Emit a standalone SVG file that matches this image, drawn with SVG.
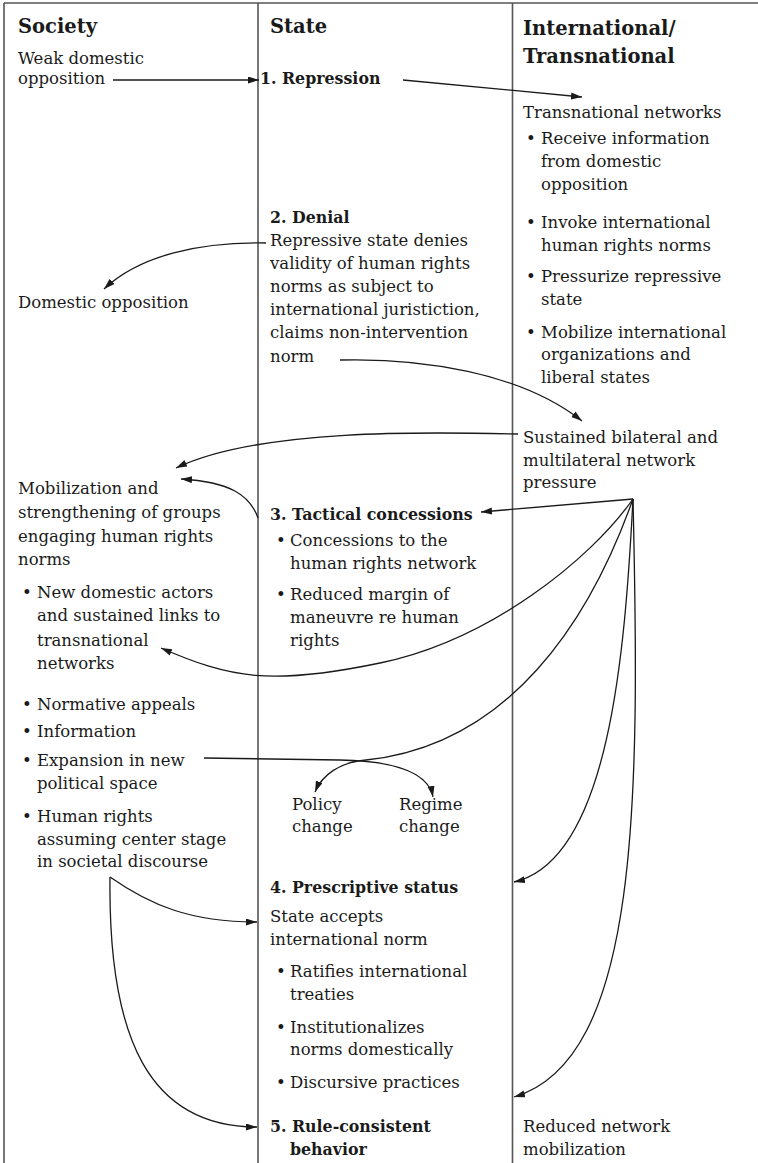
<svg xmlns="http://www.w3.org/2000/svg" width="758" height="1163" viewBox="0 0 758 1163">
<style>
text{font-family:"DejaVu Serif","Liberation Serif",serif;font-size:16.5px;fill:#1a1a1a}
.h{font-size:19.5px;font-weight:bold}
.b{font-weight:bold;font-size:15.8px}
.frame{stroke:#555;stroke-width:1.6;fill:none}
.c{stroke:#1a1a1a;stroke-width:1.3;fill:none;marker-end:url(#ah)}
.cn{stroke:#1a1a1a;stroke-width:1.3;fill:none}
</style>
<defs>
<marker id="ah" markerUnits="userSpaceOnUse" markerWidth="12" markerHeight="8" refX="11" refY="3.5" orient="auto">
<path d="M0,0 L11,3.5 L0,7 z" fill="#1a1a1a"/>
</marker>
</defs>
<rect width="758" height="1163" fill="#fff"/>
<g id="frame">
<line class="frame" x1="4" y1="3" x2="758" y2="3"/>
<line class="frame" x1="4" y1="3" x2="4" y2="1163"/>
<line class="frame" x1="258" y1="3" x2="258" y2="1163"/>
<line class="frame" x1="512.5" y1="3" x2="512.5" y2="1163"/>
</g>
<g id="headers">
<text class="h" x="18" y="33">Society</text>
<text class="h" x="270" y="33">State</text>
<text class="h" x="523" y="35">International/</text>
<text class="h" x="523" y="63">Transnational</text>
</g>
<g id="weak-opposition">
<text x="18" y="64">Weak domestic</text>
<text x="18" y="84">opposition</text>
</g>
<g id="repression">
<text class="b" x="260" y="84">1. Repression</text>
</g>
<g id="transnational-networks">
<text x="523" y="118">Transnational networks</text>
<text x="526" y="144">•</text><text x="541" y="144">Receive information</text>
<text x="541" y="167">from domestic</text>
<text x="541" y="190">opposition</text>
<text x="526" y="228">•</text><text x="541" y="228">Invoke international</text>
<text x="541" y="251">human rights norms</text>
<text x="526" y="282">•</text><text x="541" y="282">Pressurize repressive</text>
<text x="541" y="305">state</text>
<text x="526" y="338">•</text><text x="541" y="338">Mobilize international</text>
<text x="541" y="360">organizations and</text>
<text x="541" y="383">liberal states</text>
</g>
<g id="denial">
<text class="b" x="270" y="223">2. Denial</text>
<text x="270" y="246">Repressive state denies</text>
<text x="270" y="269">validity of human rights</text>
<text x="270" y="292">norms as subject to</text>
<text x="270" y="315">international juristiction,</text>
<text x="270" y="338">claims non-intervention</text>
<text x="270" y="362">norm</text>
</g>
<g id="domestic-opposition">
<text x="18" y="308">Domestic opposition</text>
</g>
<g id="network-pressure">
<text x="523" y="443">Sustained bilateral and</text>
<text x="523" y="466">multilateral network</text>
<text x="523" y="488">pressure</text>
</g>
<g id="mobilization">
<text x="18" y="494">Mobilization and</text>
<text x="18" y="518">strengthening of groups</text>
<text x="18" y="542">engaging human rights</text>
<text x="18" y="565">norms</text>
<text x="22" y="598">•</text><text x="37" y="598">New domestic actors</text>
<text x="37" y="621">and sustained links to</text>
<text x="37" y="646">transnational</text>
<text x="37" y="669">networks</text>
<text x="22" y="710">•</text><text x="37" y="710">Normative appeals</text>
<text x="22" y="737">•</text><text x="37" y="737">Information</text>
<text x="22" y="766">•</text><text x="37" y="766">Expansion in new</text>
<text x="37" y="789">political space</text>
<text x="22" y="822">•</text><text x="37" y="822">Human rights</text>
<text x="37" y="845">assuming center stage</text>
<text x="37" y="867">in societal discourse</text>
</g>
<g id="tactical-concessions">
<text class="b" x="270" y="520">3. Tactical concessions</text>
<text x="276" y="546">•</text><text x="290" y="546">Concessions to the</text>
<text x="290" y="569">human rights network</text>
<text x="276" y="600">•</text><text x="290" y="600">Reduced margin of</text>
<text x="290" y="623">maneuvre re human</text>
<text x="290" y="646">rights</text>
</g>
<g id="policy-change">
<text x="292" y="810">Policy</text>
<text x="292" y="832">change</text>
</g>
<g id="regime-change">
<text x="399" y="810">Regime</text>
<text x="399" y="832">change</text>
</g>
<g id="prescriptive-status">
<text class="b" x="270" y="893">4. Prescriptive status</text>
<text x="270" y="922">State accepts</text>
<text x="270" y="945">international norm</text>
<text x="276" y="977">•</text><text x="290" y="977">Ratifies international</text>
<text x="290" y="1000">treaties</text>
<text x="276" y="1033">•</text><text x="290" y="1033">Institutionalizes</text>
<text x="290" y="1055">norms domestically</text>
<text x="276" y="1088">•</text><text x="290" y="1088">Discursive practices</text>
</g>
<g id="rule-consistent">
<text class="b" x="270" y="1132">5. Rule-consistent</text>
<text class="b" x="290" y="1155">behavior</text>
</g>
<g id="reduced-mobilization">
<text x="523" y="1132">Reduced network</text>
<text x="523" y="1155">mobilization</text>
</g>
<g id="connectors">
<path class="c" d="M113,80 L259,80"/>
<path class="c" d="M403,80 L582,97"/>
<path class="c" d="M266,243 C200,242 140,255 104,289"/>
<path class="c" d="M340,360 C420,358 520,372 582,421"/>
<path class="c" d="M518,434 C430,432 260,428 176,468"/>
<path class="c" d="M258,518 C250,495 230,482 181,479"/>
<path class="c" d="M633,499 L481,512"/>
<path class="c" d="M633,499 C590,560 490,640 380,663 S230,678 161,648"/>
<path class="cn" d="M633,499 C590,620 510,745 366,760"/>
<path class="c" d="M633,499 C625,650 610,860 514,882"/>
<path class="c" d="M633,499 C640,800 640,1060 514,1097"/>
<path class="c" d="M204,758 L340,760 C390,761 428,770 433,797"/>
<path class="c" d="M366,760 C340,762 322,775 315,792"/>
<path class="c" d="M110,877 C150,905 190,922 257,922"/>
<path class="c" d="M110,877 C108,1040 150,1127 257,1127"/>
</g>
</svg>
